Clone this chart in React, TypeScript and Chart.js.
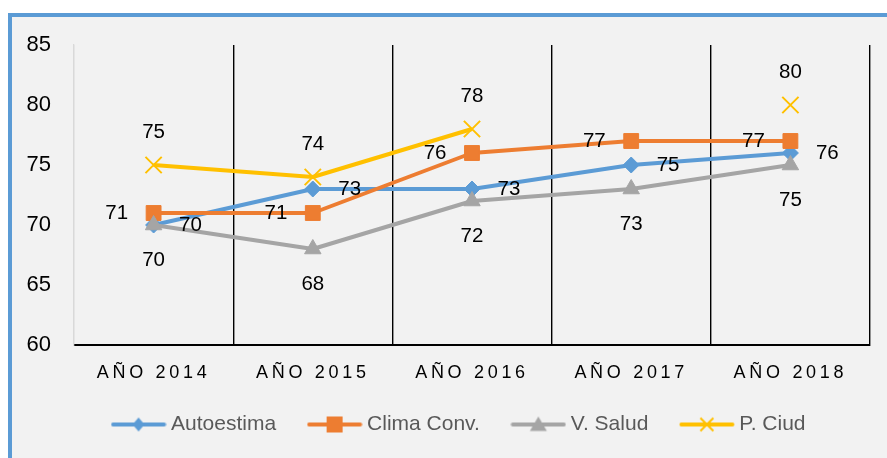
import React, { useEffect, useRef } from 'react';
import { Chart, registerables } from 'chart.js';

Chart.register(...registerables);

const categories = ['AÑO 2014', 'AÑO 2015', 'AÑO 2016', 'AÑO 2017', 'AÑO 2018'];
const seriesNames = ['Autoestima', 'Clima Conv.', 'V. Salud', 'P. Ciud'];
const autoestima = [70, 73, 73, 75, 76];
const climaConv = [71, 71, 76, 77, 77];
const vSalud = [70, 68, 72, 73, 75];
const pCiud = [75, 74, 78, null, 80];
const yMin = 60;
const yMax = 85;
const yStep = 5;

const COLORS = ['#5b9bd5', '#ed7d31', '#a5a5a5', '#ffc000'];
const STYLES = ['rectRot', 'rect', 'triangle', 'crossRot'];
const RADII = [8, 10.5, 9.5, 11.5];
const LABEL_POS = ['right', 'left', 'below', 'above'];
const FONT = "'Liberation Sans', Arial, sans-serif";

function makeIcon(color: string, style: string): HTMLCanvasElement {
  const c = document.createElement('canvas');
  c.width = 56;
  c.height = 22;
  const g = c.getContext('2d')!;
  const cx = 28;
  const cy = 11;
  g.strokeStyle = color;
  g.fillStyle = color;
  g.lineWidth = 4;
  g.lineCap = 'round';
  g.beginPath();
  g.moveTo(2.5, cy);
  g.lineTo(53.5, cy);
  g.stroke();
  g.beginPath();
  if (style === 'rectRot') {
    g.moveTo(cx - 6, cy);
    g.lineTo(cx, cy - 7);
    g.lineTo(cx + 6, cy);
    g.lineTo(cx, cy + 7);
    g.closePath();
    g.fill();
  } else if (style === 'rect') {
    g.fillRect(cx - 8, cy - 8, 16, 16);
  } else if (style === 'triangle') {
    g.moveTo(cx, cy - 8);
    g.lineTo(cx + 8.5, cy + 6.5);
    g.lineTo(cx - 8.5, cy + 6.5);
    g.closePath();
    g.fill();
  } else {
    g.lineWidth = 2;
    g.lineCap = 'butt';
    g.moveTo(cx - 6.5, cy - 6.5);
    g.lineTo(cx + 6.5, cy + 6.5);
    g.moveTo(cx + 6.5, cy - 6.5);
    g.lineTo(cx - 6.5, cy + 6.5);
    g.stroke();
  }
  return c;
}

const valueLabels = {
  id: 'valueLabels',
  afterDatasetsDraw(chart: any) {
    const ctx = chart.ctx;
    ctx.save();
    ctx.font = `20.5px ${FONT}`;
    ctx.fillStyle = '#000000';
    ctx.textBaseline = 'middle';
    chart.data.datasets.forEach((ds: any, i: number) => {
      const meta = chart.getDatasetMeta(i);
      meta.data.forEach((pt: any, j: number) => {
        const v = ds.data[j];
        if (v === null || v === undefined) return;
        let x = pt.x;
        let y = pt.y;
        const pos = LABEL_POS[i];
        if (pos === 'right') {
          ctx.textAlign = 'left';
          x += 25.5;
        } else if (pos === 'left') {
          ctx.textAlign = 'right';
          x -= 25.5;
        } else if (pos === 'below') {
          ctx.textAlign = 'center';
          y += 35;
        } else {
          ctx.textAlign = 'center';
          y -= 32.5;
        }
        ctx.fillText(String(v), x, y);
      });
    });
    ctx.restore();
  },
};

const spacedXLabels = {
  id: 'spacedXLabels',
  afterDraw(chart: any) {
    const ctx = chart.ctx;
    const xs = chart.scales.x;
    ctx.save();
    ctx.font = `18px ${FONT}`;
    ctx.fillStyle = '#000000';
    ctx.textAlign = 'center';
    ctx.textBaseline = 'middle';
    (ctx as any).letterSpacing = '3.7px';
    categories.forEach((c, i) => {
      ctx.fillText(c, xs.getPixelForValue(i), xs.top + 27.7);
    });
    ctx.restore();
  },
};

export default function App() {
  const ref = useRef<HTMLCanvasElement>(null);

  useEffect(() => {
    document.documentElement.style.overflow = 'hidden';
    const icons = COLORS.map((c, i) => makeIcon(c, STYLES[i]));
    const values = [autoestima, climaConv, vSalud, pCiud];
    const chart = new Chart(ref.current!, {
      type: 'line',
      data: {
        labels: categories,
        datasets: values.map((d, i) => ({
          label: seriesNames[i],
          data: d,
          borderColor: COLORS[i],
          backgroundColor: COLORS[i],
          borderWidth: 4,
          pointStyle: STYLES[i] as any,
          pointRadius: RADII[i],
          pointBackgroundColor: COLORS[i],
          pointBorderColor: COLORS[i],
          pointBorderWidth: STYLES[i] === 'crossRot' ? 2 : 1,
          tension: 0,
          spanGaps: false,
          order: 3 - i,
          borderJoinStyle: 'round' as any,
        })),
      },
      options: {
        responsive: false,
        animation: false,
        devicePixelRatio: 1,
        layout: { padding: { left: 0, right: 0, top: 28, bottom: 13 } },
        plugins: {
          tooltip: { enabled: false },
          legend: {
            position: 'bottom',
            labels: {
              usePointStyle: true,
              pointStyleWidth: 44,
              padding: 36.5,
              color: '#595959',
              font: { family: FONT, size: 21 },
              generateLabels: (ch: any) =>
                ch.data.datasets.map((ds: any, i: number) => ({
                  text: ds.label,
                  fillStyle: COLORS[i],
                  strokeStyle: COLORS[i],
                  fontColor: '#595959',
                  lineWidth: 0,
                  pointStyle: icons[i],
                  hidden: false,
                  datasetIndex: i,
                })),
            },
          },
        },
        scales: {
          x: {
            type: 'category',
            offset: true,
            grid: {
              offset: true,
              drawTicks: false,
              lineWidth: 1.4,
              color: (c: any) => (c.index === 0 ? '#d9d9d9' : '#000000'),
            },
            border: { display: true, color: '#000000', width: 2 },
            ticks: { color: 'rgba(0,0,0,0)', font: { family: FONT, size: 18 }, maxRotation: 0 },
            afterFit: (s: any) => {
              s.height = 32.5;
            },
          },
          y: {
            type: 'linear',
            position: 'left',
            min: yMin,
            max: yMax,
            grid: { display: false, drawTicks: false },
            border: { display: true, color: '#d9d9d9', width: 1.3 },
            ticks: {
              stepSize: yStep,
              padding: 23,
              color: '#000000',
              font: { family: FONT, size: 22, lineHeight: 0.4 },
            },
            afterFit: (s: any) => {
              s.width = 62;
            },
          },
          yPad: {
            type: 'linear',
            position: 'right',
            display: true,
            grid: { display: false, drawTicks: false },
            border: { display: false },
            ticks: { display: false },
            afterFit: (s: any) => {
              s.width = 40;
            },
          },
        },
      },
      plugins: [valueLabels, spacedXLabels],
    });
    return () => chart.destroy();
  }, []);

  return (
    <div
      style={{
        position: 'fixed',
        left: 8,
        top: 13,
        width: 1000,
        height: 600,
        borderLeft: '4px solid #5b9bd5',
        borderTop: '4px solid #5b9bd5',
        background: '#f2f2f2',
        overflow: 'hidden',
      }}
    >
      <canvas ref={ref} width={898} height={441} style={{ display: 'block' }} />
    </div>
  );
}
